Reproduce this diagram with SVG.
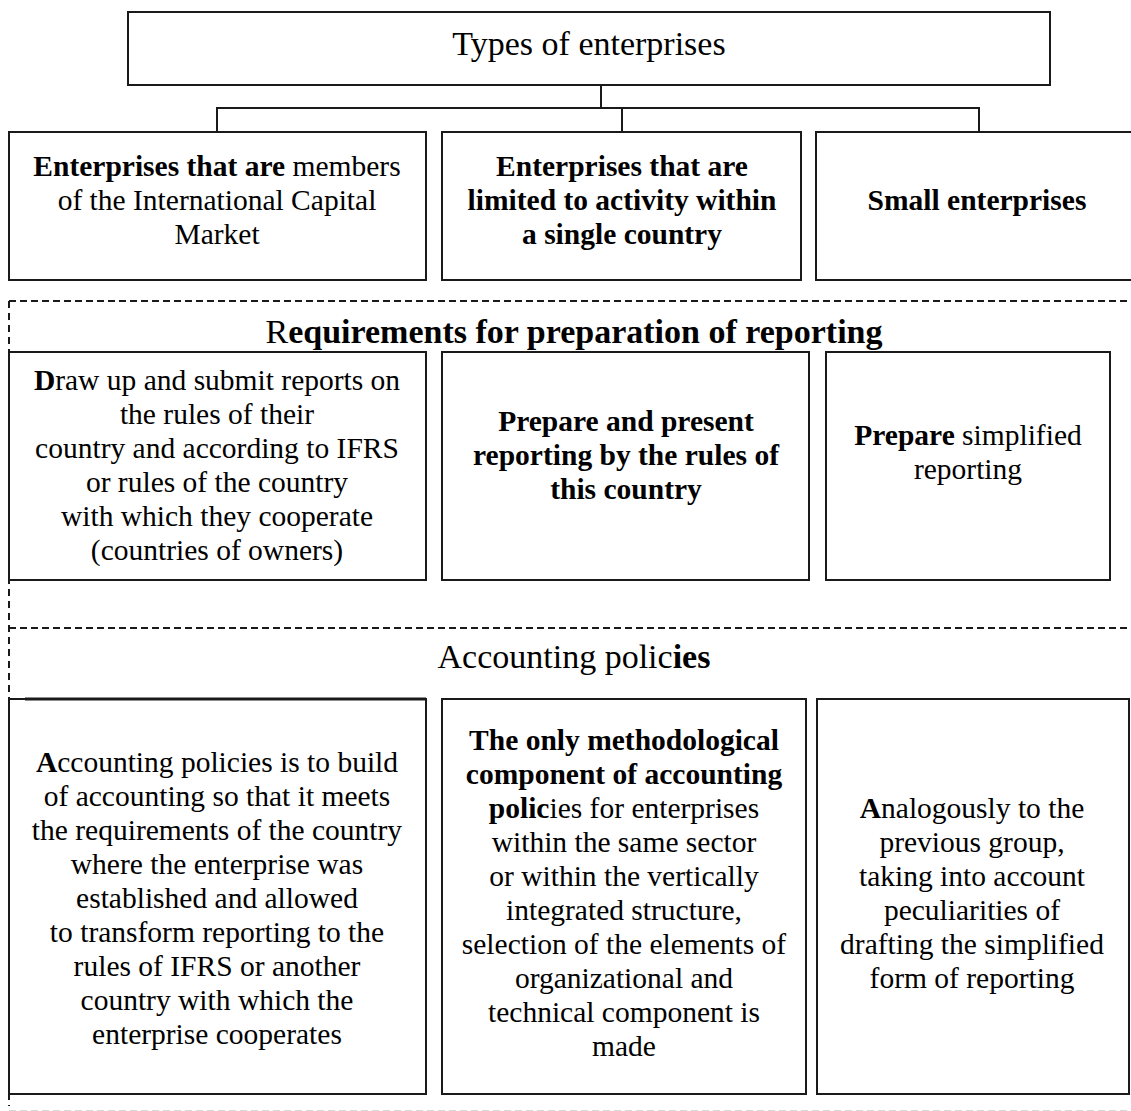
<svg xmlns="http://www.w3.org/2000/svg" width="1131" height="1111" viewBox="0 0 1131 1111">
<style>
  .box { fill: #fff; stroke: #1a1a1a; stroke-width: 2; }
  .t { font-family: "Liberation Serif", "Times New Roman", serif; font-size: 29.5px; fill: #000; text-anchor: middle; }
  .h { font-family: "Liberation Serif", "Times New Roman", serif; font-size: 34px; fill: #000; text-anchor: middle; }
  .b { font-weight: bold; }
  .conn { fill: none; stroke: #1a1a1a; stroke-width: 2; }
  .dash { fill: none; stroke: #1a1a1a; stroke-width: 2; stroke-dasharray: 7 4; }
  .dashv { fill: none; stroke: #1a1a1a; stroke-width: 2; stroke-dasharray: 7 5; }
</style>
<rect width="1131" height="1111" fill="#fff"/>

<g id="dividers">
  <path class="dash" d="M9 301 H1131"/>
  <path class="dash" d="M9 628 H1131"/>
  <path class="dashv" d="M9 301 V1106"/>
  <path d="M9 1110.5 H1131" fill="none" stroke="#d8d8d8" stroke-width="1" stroke-dasharray="7 4"/>
</g>

<g id="connectors">
  <path class="conn" d="M601 85 V108"/>
  <path class="conn" d="M217 132 V108 H979 V132"/>
  <path class="conn" d="M622 108 V132"/>
</g>

<g id="types">
  <rect class="box" x="128" y="12" width="922" height="73"/>
  <text class="h" x="589" y="55">Types of enterprises</text>
</g>

<g id="ent-international">
  <rect class="box" x="9" y="132" width="417" height="148"/>
  <text class="t" x="217" y="176"><tspan class="b">Enterprises that are</tspan> members</text>
  <text class="t" x="217" y="210">of the International Capital</text>
  <text class="t" x="217" y="244">Market</text>
</g>

<g id="ent-single-country">
  <rect class="box" x="442" y="132" width="359" height="148"/>
  <text class="t b" x="622" y="176">Enterprises that are</text>
  <text class="t b" x="622" y="210">limited to activity within</text>
  <text class="t b" x="622" y="244">a single country</text>
</g>

<g id="ent-small">
  <rect class="box" x="816" y="132" width="322" height="148"/>
  <text class="t b" x="977" y="210">Small enterprises</text>
</g>

<g id="req-title">
  <text class="h" x="574" y="343">R<tspan class="b">equirements for preparation of reporting</tspan></text>
</g>

<g id="req-international">
  <rect class="box" x="9" y="352" width="417" height="228"/>
  <text class="t" x="217" y="390"><tspan class="b">D</tspan>raw up and submit reports on</text>
  <text class="t" x="217" y="424">the rules of their</text>
  <text class="t" x="217" y="458">country and according to IFRS</text>
  <text class="t" x="217" y="492">or rules of the country</text>
  <text class="t" x="217" y="526">with which they cooperate</text>
  <text class="t" x="217" y="560">(countries of owners)</text>
</g>

<g id="req-single-country">
  <rect class="box" x="442" y="352" width="367" height="228"/>
  <text class="t b" x="626" y="431">Prepare and present</text>
  <text class="t b" x="626" y="465">reporting by the rules of</text>
  <text class="t b" x="626" y="499">this country</text>
</g>

<g id="req-small">
  <rect class="box" x="826" y="352" width="284" height="228"/>
  <text class="t" x="968" y="445"><tspan class="b">Prepare</tspan> simplified</text>
  <text class="t" x="968" y="479">reporting</text>
</g>

<g id="acc-title">
  <text class="h" x="574" y="668">Accounting polic<tspan class="b">ies</tspan></text>
</g>

<g id="acc-international">
  <rect class="box" x="9" y="699" width="417" height="395"/>
  <path d="M25 699 H426" stroke="#1a1a1a" stroke-width="3" fill="none"/>
  <text class="t" x="217" y="772"><tspan class="b">A</tspan>ccounting policies is to build</text>
  <text class="t" x="217" y="806">of accounting so that it meets</text>
  <text class="t" x="217" y="840">the requirements of the country</text>
  <text class="t" x="217" y="874">where the enterprise was</text>
  <text class="t" x="217" y="908">established and allowed</text>
  <text class="t" x="217" y="942">to transform reporting to the</text>
  <text class="t" x="217" y="976">rules of IFRS or another</text>
  <text class="t" x="217" y="1010">country with which the</text>
  <text class="t" x="217" y="1044">enterprise cooperates</text>
</g>

<g id="acc-single-country">
  <rect class="box" x="442" y="699" width="364" height="395"/>
  <text class="t b" x="624" y="750">The only methodological</text>
  <text class="t b" x="624" y="784">component of accounting</text>
  <text class="t" x="624" y="818"><tspan class="b">polic</tspan>ies for enterprises</text>
  <text class="t" x="624" y="852">within the same sector</text>
  <text class="t" x="624" y="886">or within the vertically</text>
  <text class="t" x="624" y="920">integrated structure,</text>
  <text class="t" x="624" y="954">selection of the elements of</text>
  <text class="t" x="624" y="988">organizational and</text>
  <text class="t" x="624" y="1022">technical component is</text>
  <text class="t" x="624" y="1056">made</text>
</g>

<g id="acc-small">
  <rect class="box" x="817" y="699" width="312" height="395"/>
  <text class="t" x="972" y="818"><tspan class="b">A</tspan>nalogously to the</text>
  <text class="t" x="972" y="852">previous group,</text>
  <text class="t" x="972" y="886">taking into account</text>
  <text class="t" x="972" y="920">peculiarities of</text>
  <text class="t" x="972" y="954">drafting the simplified</text>
  <text class="t" x="972" y="988">form of reporting</text>
</g>
</svg>
